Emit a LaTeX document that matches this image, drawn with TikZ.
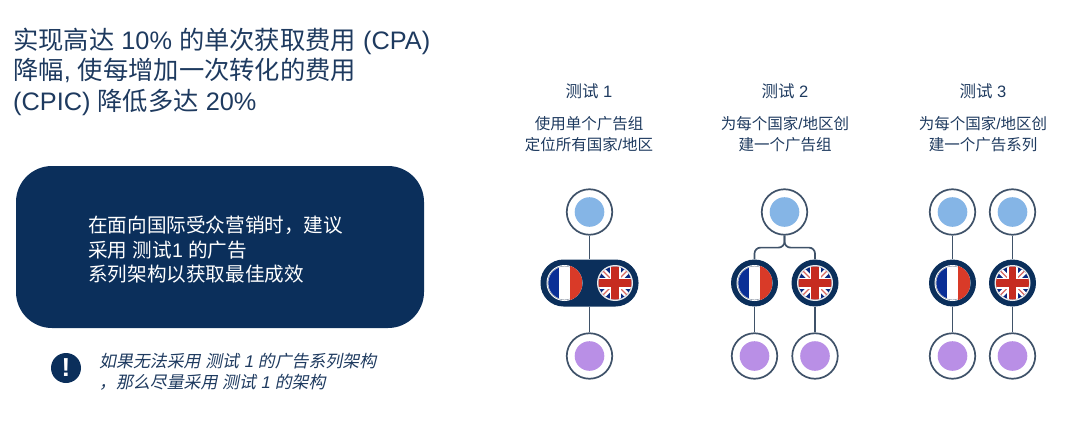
\documentclass[tikz,border=0pt]{standalone}
\usepackage{fontspec}
\setmainfont{Liberation Sans}
\newfontfamily\cjk{Noto Sans CJK SC}
\newfontfamily\cjkit[FakeSlant=0.2]{Noto Sans CJK SC}
\newfontfamily\latit[FakeSlant=0.2]{Liberation Sans}
\newcommand{\Z}[1]{{\cjk #1}}
\newcommand{\ZI}[1]{{\cjkit #1}}
\definecolor{navy}{HTML}{0B2F5B}
\definecolor{titlec}{HTML}{1E3A5F}
\definecolor{linec}{HTML}{3F5269}
\definecolor{bluedot}{HTML}{85B5E6}
\definecolor{purpledot}{HTML}{B98FE6}
\definecolor{frblue}{HTML}{0A2F96}
\definecolor{frred}{HTML}{D93A28}
\definecolor{ukred}{HTML}{C62B20}
\tikzset{
  x=1pt,y=1pt,
  ring/.style={circle,draw=linec,line width=1.7pt,fill=white,minimum size=45.5pt,inner sep=0pt},
  navyring/.style={circle,fill=navy,minimum size=47pt,inner sep=0pt},
  pill/.style={rectangle,rounded corners=23pt,fill=navy,minimum width=98pt,minimum height=47pt,inner sep=0pt},
  link/.style={draw=linec,line width=1.7pt},
  label/.style={text=titlec,align=center,inner sep=0pt,font=\fontsize{15.5}{21.5}\selectfont},
  headlabel/.style={label,font=\fontsize{16.5}{21.5}\selectfont},
}
% #1 centre x, #2 centre y, #3 fill
\newcommand{\colordot}[3]{\fill[#3] (#1,#2) circle (14.8);}
\newcommand{\frflag}[2]{%
  \begin{scope}[shift={(#1,#2)}]
    \fill[white] (0,0) circle (18);
    \draw[linec!60,line width=.5pt] (0,0) circle (16.8);
    \begin{scope}
      \clip (0,0) circle (16.2);
      \fill[frblue] (-18,-18) rectangle (-5.2,18);
      \fill[white] (-5.2,-18) rectangle (5.6,18);
    \end{scope}
    \begin{scope}
      \clip (0,0) circle (18);
      \fill[frred] (5.6,-18) rectangle (18,18);
    \end{scope}
  \end{scope}}
\newcommand{\ukflag}[2]{%
  \begin{scope}[shift={(#1,#2)}]
    \fill[white!92!black] (0,0) circle (18);
    \begin{scope}
      \clip (0,0) circle (16.5);
      \fill[frblue!85!black] (-18,-18) rectangle (18,18);
      \draw[white,line width=6pt] (-16,-16) -- (16,16) (-16,16) -- (16,-16);
      \draw[ukred!70!white,line width=1.3pt] (-16,-16) -- (16,16) (-16,16) -- (16,-16);
      \draw[white,line width=11pt] (-18,0) -- (18,0) (0,-18) -- (0,18);
      \fill[ukred] (-18,-3.6) rectangle (18,3.6);
      \fill[ukred] (-3.6,-18) rectangle (3.6,18);
    \end{scope}
  \end{scope}}
\begin{document}
\begin{tikzpicture}
\useasboundingbox (0,0) rectangle (1080,-431);
% heading
\node[anchor=west,text=titlec,align=left,inner sep=0pt,font=\fontsize{25.3}{30.5}\selectfont] (title) at (13,-71.5)
 {\Z{实现高达} 10\% \Z{的单次获取费用} (CPA)\\ \Z{降幅}, \Z{使每增加一次转化的费用}\\ (CPIC) \Z{降低多达} 20\%};
% recommendation box
\node[rectangle,rounded corners=36pt,fill=navy,minimum width=408pt,minimum height=162pt,inner sep=0pt] (box) at (220,-247) {};
\node[anchor=west,text=white,align=left,inner sep=0pt,font=\fontsize{19.6}{24.5}\selectfont] (boxtext) at (88,-250)
 {\Z{在面向国际受众营销时，建议}\\ \Z{采用} \Z{测试}1 \Z{的广告}\\ \Z{系列架构以获取最佳成效}};
% note
\node[circle,fill=navy,minimum size=30pt,inner sep=0pt,text=white,font=\fontsize{26}{26}\bfseries\selectfont] (warn) at (66,-368) {!};
\node[anchor=west,text=titlec,align=left,inner sep=0pt,font=\fontsize{16.9}{21}\selectfont] (note) at (99,-371.5)
 {\ZI{如果无法采用} \ZI{测试} {\latit 1} \ZI{的广告系列架构}\\ \ZI{，那么尽量采用} \ZI{测试} {\latit 1} \ZI{的架构}};
% column heads
\node[headlabel] (h1) at (589,-91) {\Z{测试} 1};
\node[headlabel] (h2) at (785,-91) {\Z{测试} 2};
\node[headlabel] (h3) at (983,-91) {\Z{测试} 3};
\node[label] (d1) at (589,-134) {\Z{使用单个广告组}\\ \Z{定位所有国家}/\Z{地区}};
\node[label] (d2) at (785,-134) {\Z{为每个国家}/\Z{地区创}\\ \Z{建一个广告组}};
\node[label] (d3) at (983,-134) {\Z{为每个国家}/\Z{地区创}\\ \Z{建一个广告系列}};
% test 1
\node[ring] (t1) at (589.5,-212) {};
\node[pill] (p1) at (589.5,-283) {};
\node[ring] (b1) at (589.5,-356) {};
\draw[link] (t1) -- (p1);
\draw[link] (p1) -- (b1);
% test 2
\node[ring] (t2) at (784.5,-212) {};
\node[navyring] (m2a) at (754.5,-283) {};
\node[navyring] (m2b) at (815,-283) {};
\node[ring] (b2a) at (754.5,-356) {};
\node[ring] (b2b) at (815,-356) {};
\draw[link,rounded corners=6pt] (t2.south) -- ++(0,-12) -| (m2a.north);
\draw[link,rounded corners=6pt] (t2.south) -- ++(0,-12) -| (m2b.north);
\draw[link] (m2a) -- (b2a);
\draw[link] (m2b) -- (b2b);
% test 3
\node[ring] (t3a) at (952.5,-212) {};
\node[ring] (t3b) at (1012.5,-212) {};
\node[navyring] (m3a) at (952.5,-283) {};
\node[navyring] (m3b) at (1012.5,-283) {};
\node[ring] (b3a) at (952.5,-356) {};
\node[ring] (b3b) at (1012.5,-356) {};
\draw[link] (t3a) -- (m3a);
\draw[link] (t3b) -- (m3b);
\draw[link] (m3a) -- (b3a);
\draw[link] (m3b) -- (b3b);
% dots
\foreach \p in {589.5,784.5,952.5,1012.5} {\colordot{\p}{-212}{bluedot}}
\foreach \p in {589.5,754.5,815,952.5,1012.5} {\colordot{\p}{-356}{purpledot}}
% flags
\frflag{564.5}{-283}
\ukflag{615}{-283}
\frflag{754.5}{-283}
\ukflag{815}{-283}
\frflag{952.5}{-283}
\ukflag{1012.5}{-283}
\end{tikzpicture}
\end{document}
